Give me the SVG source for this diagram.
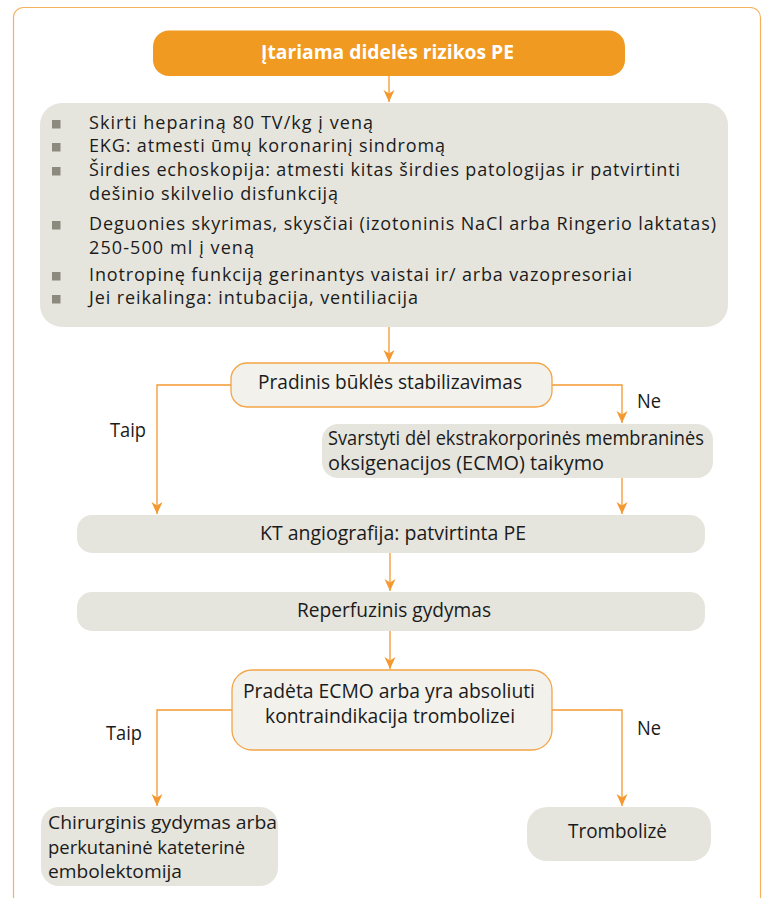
<svg xmlns="http://www.w3.org/2000/svg" width="766" height="898" viewBox="0 0 766 898">
<defs>
<style>
.frame{fill:none;stroke:#F6B15F;stroke-width:1.2}
.box{fill:#E6E5DD}
.dec{fill:#F2F1EC;stroke:#F4A445;stroke-width:1.3}
.title{fill:#F09A22}
.t{font-family:"Open Sans","Noto Sans",sans-serif;font-size:20px;fill:#1b1b1b}
.s{font-family:"Open Sans","Noto Sans",sans-serif;font-size:19px;fill:#1b1b1b}
.b{font-family:"Open Sans","Noto Sans",sans-serif;font-size:18px;fill:#1b1b1b}
.tt{font-family:"Open Sans","Noto Sans",sans-serif;font-size:19px;font-weight:bold;fill:#ffffff}
.bul{fill:#8C897E}
.c{fill:none;stroke:#F4982F;stroke-width:1.3}
</style>
<marker id="ah" markerUnits="userSpaceOnUse" markerWidth="12" markerHeight="14" viewBox="0 0 12 14" refX="12" refY="7" orient="auto">
<path d="M0,1.5 L12,7 L0,12.5 L3.5,7 z" fill="#F4982F"/>
</marker>
</defs>
<rect class="frame" x="13.5" y="7.5" width="747" height="940" rx="10"/>

<g id="connectors">
<path class="c" d="M389,76 V102" marker-end="url(#ah)"/>
<path class="c" d="M389,327 V362" marker-end="url(#ah)"/>
<path class="c" d="M231,385 H157 V514" marker-end="url(#ah)"/>
<path class="c" d="M552,385 H622 V423" marker-end="url(#ah)"/>
<path class="c" d="M622,478 V514" marker-end="url(#ah)"/>
<path class="c" d="M390,553 V591" marker-end="url(#ah)"/>
<path class="c" d="M390,631 V669" marker-end="url(#ah)"/>
<path class="c" d="M232,710 H157 V806" marker-end="url(#ah)"/>
<path class="c" d="M552,710 H622 V806" marker-end="url(#ah)"/>
<text class="t" x="110" y="437" textLength="36" lengthAdjust="spacingAndGlyphs">Taip</text>
<text class="t" x="637" y="408" textLength="24" lengthAdjust="spacingAndGlyphs">Ne</text>
<text class="t" x="106" y="740" textLength="36" lengthAdjust="spacingAndGlyphs">Taip</text>
<text class="t" x="637" y="735" textLength="24" lengthAdjust="spacingAndGlyphs">Ne</text>
</g>

<g id="n_title">
<rect class="title" x="153" y="30.5" width="472" height="45.5" rx="16"/>
<text class="tt" x="261" y="59" textLength="253" lengthAdjust="spacingAndGlyphs">Įtariama didelės rizikos PE</text>
</g>

<g id="n_actions">
<rect class="box" x="40" y="103" width="688" height="224" rx="22"/>
<rect class="bul" x="52" y="120" width="8.5" height="8.5"/>
<rect class="bul" x="52" y="143" width="8.5" height="8.5"/>
<rect class="bul" x="52" y="167" width="8.5" height="8.5"/>
<rect class="bul" x="52" y="221" width="8.5" height="8.5"/>
<rect class="bul" x="52" y="272" width="8.5" height="8.5"/>
<rect class="bul" x="52" y="295" width="8.5" height="8.5"/>
<text class="b" x="89" y="129" textLength="284">Skirti hepariną 80 TV/kg į veną</text>
<text class="b" x="89" y="152" textLength="356">EKG: atmesti ūmų koronarinį sindromą</text>
<text class="b" x="89" y="176" textLength="591">Širdies echoskopija: atmesti kitas širdies patologijas ir patvirtinti</text>
<text class="b" x="89" y="200" textLength="249">dešinio skilvelio disfunkciją</text>
<text class="b" x="89" y="230" textLength="627">Deguonies skyrimas, skysčiai (izotoninis NaCl arba Ringerio laktatas)</text>
<text class="b" x="89" y="254" textLength="165">250-500 ml į veną</text>
<text class="b" x="89" y="281" textLength="543">Inotropinę funkciją gerinantys vaistai ir/ arba vazopresoriai</text>
<text class="b" x="89" y="304" textLength="329">Jei reikalinga: intubacija, ventiliacija</text>
</g>

<g id="n_stab">
<rect class="dec" x="231" y="363" width="321" height="44" rx="16"/>
<text class="t" x="258" y="389" textLength="264" lengthAdjust="spacingAndGlyphs">Pradinis būklės stabilizavimas</text>
</g>

<g id="n_ecmo">
<rect class="box" x="322" y="424" width="391" height="54" rx="16"/>
<text class="t" x="328" y="445" textLength="376" lengthAdjust="spacingAndGlyphs">Svarstyti dėl ekstrakorporinės membraninės</text>
<text class="t" x="328" y="470" textLength="276" lengthAdjust="spacingAndGlyphs">oksigenacijos (ECMO) taikymo</text>
</g>

<g id="n_kt">
<rect class="box" x="77" y="515" width="628" height="38" rx="15"/>
<text class="t" x="260" y="540" textLength="266" lengthAdjust="spacingAndGlyphs">KT angiografija: patvirtinta PE</text>
</g>

<g id="n_rep">
<rect class="box" x="77" y="592" width="628" height="39" rx="15"/>
<text class="t" x="297" y="617" textLength="194" lengthAdjust="spacingAndGlyphs">Reperfuzinis gydymas</text>
</g>

<g id="n_dec">
<rect class="dec" x="232" y="670" width="320" height="80" rx="20"/>
<text class="t" x="243" y="698" textLength="292" lengthAdjust="spacingAndGlyphs">Pradėta ECMO arba yra absoliuti</text>
<text class="t" x="265" y="723" textLength="250" lengthAdjust="spacingAndGlyphs">kontraindikacija trombolizei</text>
</g>

<g id="n_chir">
<rect class="box" x="41" y="807" width="237" height="79" rx="18"/>
<text class="s" x="48" y="829" textLength="229" lengthAdjust="spacingAndGlyphs">Chirurginis gydymas arba</text>
<text class="s" x="48" y="853.5" textLength="197" lengthAdjust="spacingAndGlyphs">perkutaninė kateterinė</text>
<text class="s" x="48" y="878" textLength="134" lengthAdjust="spacingAndGlyphs">embolektomija</text>
</g>

<g id="n_tromb">
<rect class="box" x="527" y="807" width="184" height="54" rx="20"/>
<text class="t" x="568" y="838" textLength="99" lengthAdjust="spacingAndGlyphs">Trombolizė</text>
</g>
</svg>
